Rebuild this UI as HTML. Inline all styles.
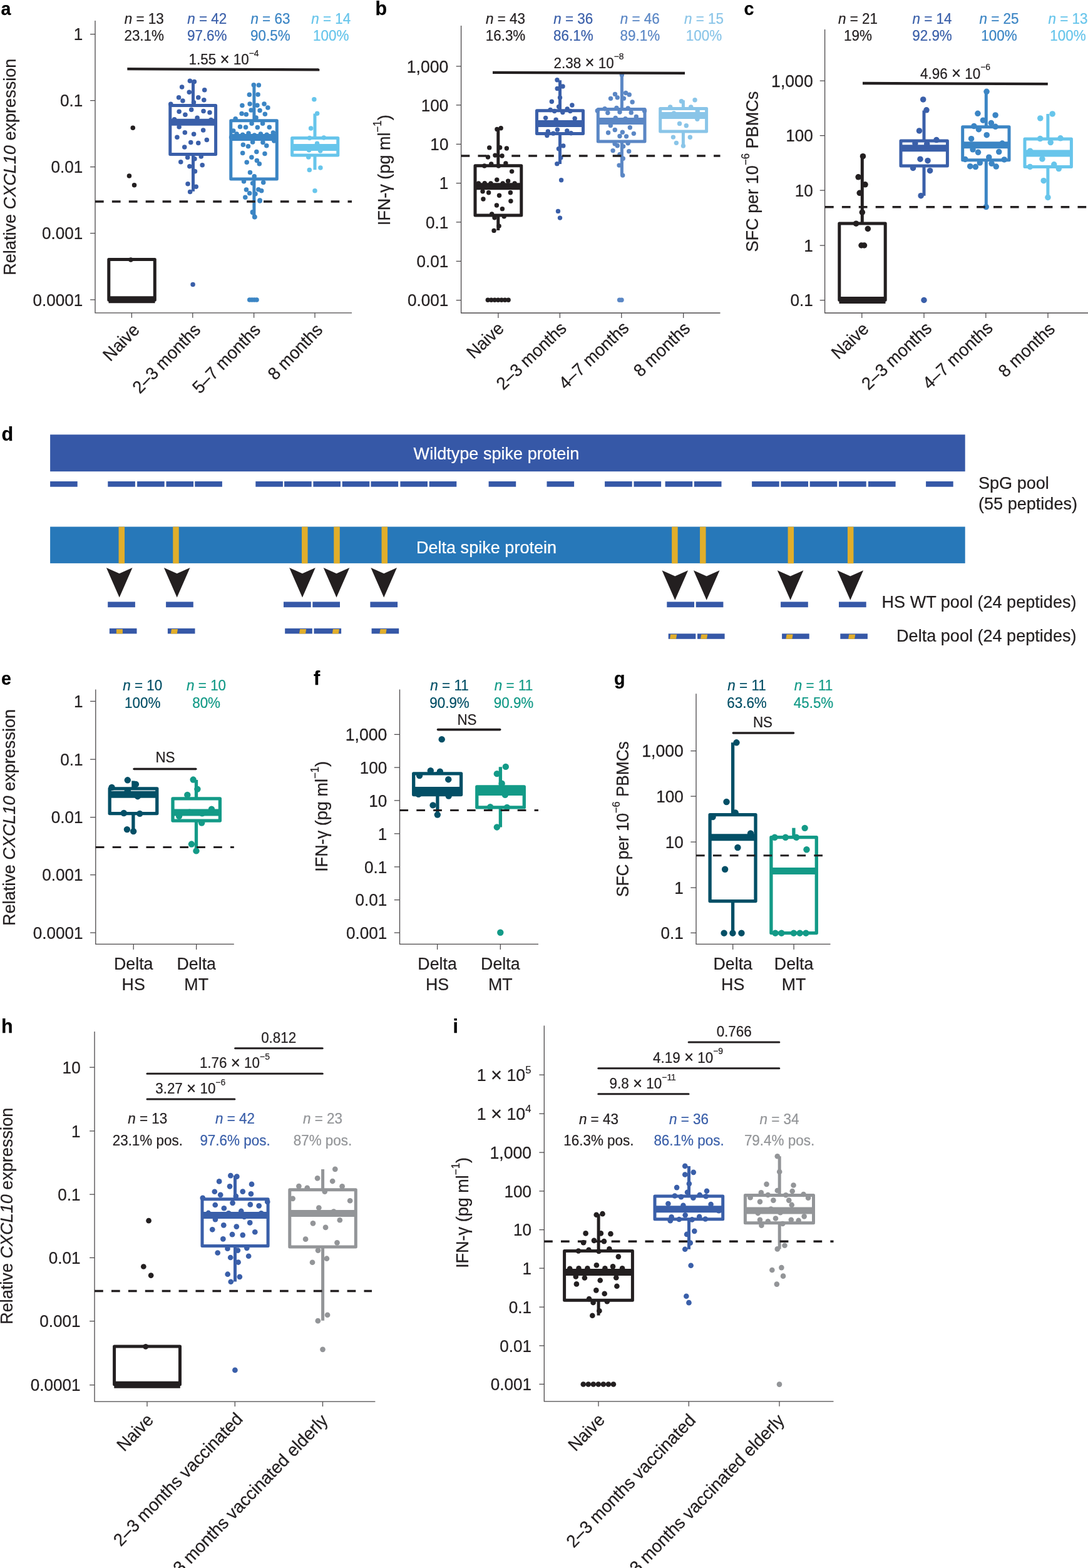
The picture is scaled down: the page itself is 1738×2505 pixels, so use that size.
<!DOCTYPE html>
<html lang="en">
<head>
<meta charset="utf-8">
<title>Figure: T cell responses after vaccination</title>
<style>
html,body{margin:0;padding:0;background:#fff;}
body{width:1738px;height:2505px;overflow:hidden;}
svg{display:block;font-family:'Liberation Sans', Arial, Helvetica, sans-serif;fill:#231f20;}
text{stroke-width:0.25px;stroke-linejoin:round;}
</style>
</head>
<body>
<svg width="1738" height="2505" viewBox="0 0 1738 2505">
<rect width="1738" height="2505" fill="#fff"/>
<text transform="translate(1.5 24.2)" font-size="28.6" fill="#000" stroke="#000" font-weight="bold">a</text>
<path d="M152 33.1V499.9H562" fill="none" stroke="#4b484a" stroke-width="1.3" stroke-linejoin="round"/>
<path d="M152 54.5h-7.9M152 160.5h-7.9M152 266.5h-7.9M152 372.7h-7.9M152 478.8h-7.9M210.4 499.9v7.9M307.8 499.9v7.9M405.6 499.9v7.9M503 499.9v7.9" fill="none" stroke="#4b484a" stroke-width="1.25"/>
<text transform="translate(132.4 64.2) scale(0.957 1)" font-size="27.3" stroke="#231f20" text-anchor="end">1</text>
<text transform="translate(132.4 170.2) scale(0.957 1)" font-size="27.3" stroke="#231f20" text-anchor="end">0.1</text>
<text transform="translate(132.4 276.2) scale(0.957 1)" font-size="27.3" stroke="#231f20" text-anchor="end">0.01</text>
<text transform="translate(132.4 382.4) scale(0.957 1)" font-size="27.3" stroke="#231f20" text-anchor="end">0.001</text>
<text transform="translate(132.4 488.5) scale(0.957 1)" font-size="27.3" stroke="#231f20" text-anchor="end">0.0001</text>
<text transform="translate(24.5 266.7) rotate(-90) scale(0.957 1)" font-size="28.3" stroke="#231f20" text-anchor="middle">Relative <tspan font-style="italic">CXCL10</tspan> expression</text>
<text transform="translate(224.4 528.6) rotate(-46) scale(0.957 1)" font-size="28.3" stroke="#231f20" text-anchor="end">Naive</text>
<text transform="translate(321.8 528.6) rotate(-46) scale(0.957 1)" font-size="28.3" stroke="#231f20" text-anchor="end">2–3 months</text>
<text transform="translate(417.6 528.6) rotate(-46) scale(0.957 1)" font-size="28.3" stroke="#231f20" text-anchor="end">5–7 months</text>
<text transform="translate(517 528.6) rotate(-46) scale(0.957 1)" font-size="28.3" stroke="#231f20" text-anchor="end">8 months</text>
<rect x="173.8" y="414.6" width="73.5" height="64.6" fill="none" stroke="#231f20" stroke-width="5" stroke-linejoin="round"/>
<path d="M173.5 478.8H247.6" stroke="#231f20" stroke-width="11" fill="none"/>
<path d="M308.5 129.1V168.6M308.5 246.4V305.8" stroke="#3a5fa9" stroke-width="5" fill="none"/>
<rect x="271.8" y="168.6" width="72.8" height="77.8" fill="none" stroke="#3a5fa9" stroke-width="5" stroke-linejoin="round"/>
<path d="M271.5 195.2H344.9" stroke="#3a5fa9" stroke-width="11" fill="none"/>
<path d="M405.9 135.7V192.7M405.9 286.1V346.5" stroke="#3b85c4" stroke-width="5" fill="none"/>
<rect x="368.8" y="192.7" width="73.5" height="93.4" fill="none" stroke="#3b85c4" stroke-width="5" stroke-linejoin="round"/>
<path d="M368.5 219.5H442.6" stroke="#3b85c4" stroke-width="11" fill="none"/>
<path d="M503 181.4V220.4M503 248.1V271.2" stroke="#67c5eb" stroke-width="5" fill="none"/>
<rect x="466.6" y="220.4" width="73.2" height="27.7" fill="none" stroke="#67c5eb" stroke-width="5" stroke-linejoin="round"/>
<path d="M466.3 235.5H540.1" stroke="#67c5eb" stroke-width="11" fill="none"/>
<g fill="#231f20"><circle cx="212.26" cy="204.14" r="3.75"/><circle cx="206.43" cy="281.02" r="3.75"/><circle cx="214.51" cy="295.86" r="3.75"/><circle cx="208.9" cy="414.9" r="3.75"/></g>
<g fill="#3a5fa9"><circle cx="303.42" cy="129.14" r="3.75"/><circle cx="310.38" cy="130.45" r="3.75"/><circle cx="290.64" cy="138.91" r="3.75"/><circle cx="326.73" cy="143.8" r="3.75"/><circle cx="302.29" cy="147.18" r="3.75"/><circle cx="285.56" cy="155.83" r="3.75"/><circle cx="291.95" cy="160.9" r="3.75"/><circle cx="316.77" cy="155.64" r="3.75"/><circle cx="325.79" cy="159.77" r="3.75"/><circle cx="309.44" cy="163.53" r="3.75"/><circle cx="272.78" cy="166.17" r="3.75"/><circle cx="305.68" cy="175.19" r="3.75"/><circle cx="286.13" cy="178.2" r="3.75"/><circle cx="295.9" cy="183.27" r="3.75"/><circle cx="325.04" cy="177.44" r="3.75"/><circle cx="335" cy="179.7" r="3.75"/><circle cx="315.08" cy="188.35" r="3.75"/><circle cx="278.61" cy="190.79" r="3.75"/><circle cx="337.07" cy="191.54" r="3.75"/><circle cx="286.13" cy="202.82" r="3.75"/><circle cx="324.66" cy="207.89" r="3.75"/><circle cx="295.34" cy="211.84" r="3.75"/><circle cx="309.62" cy="214.29" r="3.75"/><circle cx="282.93" cy="219.36" r="3.75"/><circle cx="330.3" cy="223.5" r="3.75"/><circle cx="304.74" cy="227.44" r="3.75"/><circle cx="316.77" cy="228.57" r="3.75"/><circle cx="294.77" cy="234.96" r="3.75"/><circle cx="299.66" cy="251.5" r="3.75"/><circle cx="310.94" cy="253.76" r="3.75"/><circle cx="321.28" cy="250" r="3.75"/><circle cx="288.76" cy="258.65" r="3.75"/><circle cx="323.16" cy="263.72" r="3.75"/><circle cx="302.86" cy="265.79" r="3.75"/><circle cx="311.5" cy="273.87" r="3.75"/><circle cx="300.04" cy="293.8" r="3.75"/><circle cx="313.2" cy="298.31" r="3.75"/><circle cx="303.61" cy="306.39" r="3.75"/><circle cx="308.1" cy="454.6" r="3.75"/></g>
<g fill="#3b85c4"><circle cx="405.3" cy="135.71" r="3.75"/><circle cx="413.38" cy="136.09" r="3.75"/><circle cx="398.35" cy="151.13" r="3.75"/><circle cx="412.07" cy="150.94" r="3.75"/><circle cx="399.1" cy="165.98" r="3.75"/><circle cx="386.88" cy="168.61" r="3.75"/><circle cx="410.94" cy="168.23" r="3.75"/><circle cx="422.03" cy="165.98" r="3.75"/><circle cx="427.86" cy="171.99" r="3.75"/><circle cx="401.17" cy="175.94" r="3.75"/><circle cx="415.08" cy="176.5" r="3.75"/><circle cx="386.13" cy="181.58" r="3.75"/><circle cx="393.27" cy="182.71" r="3.75"/><circle cx="423.35" cy="182.14" r="3.75"/><circle cx="376.17" cy="189.85" r="3.75"/><circle cx="409.06" cy="187.97" r="3.75"/><circle cx="402.11" cy="197.37" r="3.75"/><circle cx="419.59" cy="197.37" r="3.75"/><circle cx="383.5" cy="202.44" r="3.75"/><circle cx="392.52" cy="203.2" r="3.75"/><circle cx="411.32" cy="203.57" r="3.75"/><circle cx="430.3" cy="203.2" r="3.75"/><circle cx="372.78" cy="209.02" r="3.75"/><circle cx="436.32" cy="212.03" r="3.75"/><circle cx="378.05" cy="214.1" r="3.75"/><circle cx="387.63" cy="215.23" r="3.75"/><circle cx="397.03" cy="212.97" r="3.75"/><circle cx="406.43" cy="215.98" r="3.75"/><circle cx="416.39" cy="214.1" r="3.75"/><circle cx="426.17" cy="215.23" r="3.75"/><circle cx="369.59" cy="219.17" r="3.75"/><circle cx="437.82" cy="225" r="3.75"/><circle cx="403.61" cy="226.88" r="3.75"/><circle cx="419.96" cy="227.44" r="3.75"/><circle cx="388.38" cy="231.2" r="3.75"/><circle cx="396.47" cy="233.83" r="3.75"/><circle cx="425.79" cy="232.71" r="3.75"/><circle cx="387.63" cy="244.55" r="3.75"/><circle cx="409.81" cy="242.48" r="3.75"/><circle cx="422.97" cy="245.49" r="3.75"/><circle cx="401.92" cy="251.32" r="3.75"/><circle cx="410.38" cy="256.58" r="3.75"/><circle cx="394.21" cy="259.21" r="3.75"/><circle cx="414.32" cy="261.84" r="3.75"/><circle cx="399.47" cy="275.38" r="3.75"/><circle cx="406.24" cy="281.77" r="3.75"/><circle cx="389.51" cy="289.85" r="3.75"/><circle cx="403.61" cy="292.67" r="3.75"/><circle cx="420.71" cy="291.54" r="3.75"/><circle cx="393.46" cy="303.01" r="3.75"/><circle cx="412.82" cy="302.63" r="3.75"/><circle cx="417.71" cy="304.7" r="3.75"/><circle cx="398.72" cy="308.83" r="3.75"/><circle cx="407.93" cy="309.77" r="3.75"/><circle cx="391.77" cy="315.23" r="3.75"/><circle cx="415.08" cy="320.11" r="3.75"/><circle cx="403.61" cy="339.47" r="3.75"/><circle cx="406.8" cy="346.43" r="3.75"/><circle cx="415.08" cy="320.94" r="3.75"/><circle cx="403.42" cy="338.8" r="3.75"/><circle cx="406.8" cy="346.69" r="3.75"/><circle cx="398.72" cy="479.02" r="3.75"/><circle cx="402.48" cy="479.02" r="3.75"/><circle cx="406.24" cy="479.02" r="3.75"/><circle cx="410" cy="479.02" r="3.75"/></g>
<g fill="#67c5eb"><circle cx="501.84" cy="158.65" r="3.75"/><circle cx="506.69" cy="181.2" r="3.75"/><circle cx="496.65" cy="204.89" r="3.75"/><circle cx="494.51" cy="220.45" r="3.75"/><circle cx="517.29" cy="220.11" r="3.75"/><circle cx="506.58" cy="229.14" r="3.75"/><circle cx="493.61" cy="239.85" r="3.75"/><circle cx="511.65" cy="240.98" r="3.75"/><circle cx="492.82" cy="250.9" r="3.75"/><circle cx="511.88" cy="268.05" r="3.75"/><circle cx="494.29" cy="271.43" r="3.75"/><circle cx="503" cy="304.7" r="3.75"/></g>
<line x1="152" y1="322" x2="562" y2="322" stroke="#231f20" stroke-width="3.5" stroke-dasharray="13.7 13.2"/>
<line x1="203.3" y1="110.1" x2="510.3" y2="111.3" stroke="#231f20" stroke-width="4.3"/>
<text transform="translate(357.5 102.8) scale(0.951 1)" font-size="23.6" stroke="#231f20" text-anchor="middle">1.55 <tspan font-size="27.14" dy="0.71">×</tspan><tspan dy="-0.71"> 10</tspan><tspan dy="-13.22" font-size="14.63">−4</tspan></text>
<text transform="translate(230.2 37.6) scale(0.951 1)" font-size="23.6" stroke="#231f20" text-anchor="middle"><tspan font-style="italic">n</tspan> = 13</text>
<text transform="translate(230.2 65.3) scale(0.951 1)" font-size="23.6" stroke="#231f20" text-anchor="middle">23.1%</text>
<text transform="translate(330.7 37.6) scale(0.951 1)" font-size="23.6" fill="#3a5fa9" stroke="#3a5fa9" text-anchor="middle"><tspan font-style="italic">n</tspan> = 42</text>
<text transform="translate(330.7 65.3) scale(0.951 1)" font-size="23.6" fill="#3a5fa9" stroke="#3a5fa9" text-anchor="middle">97.6%</text>
<text transform="translate(431.9 37.6) scale(0.951 1)" font-size="23.6" fill="#3b85c4" stroke="#3b85c4" text-anchor="middle"><tspan font-style="italic">n</tspan> = 63</text>
<text transform="translate(431.9 65.3) scale(0.951 1)" font-size="23.6" fill="#3b85c4" stroke="#3b85c4" text-anchor="middle">90.5%</text>
<text transform="translate(528.7 37.6) scale(0.951 1)" font-size="23.6" fill="#67c5eb" stroke="#67c5eb" text-anchor="middle"><tspan font-style="italic">n</tspan> = 14</text>
<text transform="translate(528.7 65.3) scale(0.951 1)" font-size="23.6" fill="#67c5eb" stroke="#67c5eb" text-anchor="middle">100%</text>
<text transform="translate(599.5 24.2)" font-size="30.5" fill="#000" stroke="#000" font-weight="bold">b</text>
<path d="M736.6 41V500H1150.5" fill="none" stroke="#4b484a" stroke-width="1.3" stroke-linejoin="round"/>
<path d="M736.6 105.8h-7.9M736.6 167.9h-7.9M736.6 230.4h-7.9M736.6 292.5h-7.9M736.6 354.9h-7.9M736.6 417.4h-7.9M736.6 479.5h-7.9M795.9 500v7.9M894.4 500v7.9M992.8 500v7.9M1091.7 500v7.9" fill="none" stroke="#4b484a" stroke-width="1.25"/>
<text transform="translate(716.4 115.5) scale(0.975 1)" font-size="27.3" stroke="#231f20" text-anchor="end">1,000</text>
<text transform="translate(716.4 177.6) scale(0.957 1)" font-size="27.3" stroke="#231f20" text-anchor="end">100</text>
<text transform="translate(716.4 240.1) scale(0.957 1)" font-size="27.3" stroke="#231f20" text-anchor="end">10</text>
<text transform="translate(716.4 302.2) scale(0.957 1)" font-size="27.3" stroke="#231f20" text-anchor="end">1</text>
<text transform="translate(716.4 364.6) scale(0.957 1)" font-size="27.3" stroke="#231f20" text-anchor="end">0.1</text>
<text transform="translate(716.4 427.1) scale(0.957 1)" font-size="27.3" stroke="#231f20" text-anchor="end">0.01</text>
<text transform="translate(716.4 489.2) scale(0.957 1)" font-size="27.3" stroke="#231f20" text-anchor="end">0.001</text>
<text transform="translate(622.7 271.8) rotate(-90) scale(0.957 1)" font-size="28.3" stroke="#231f20" text-anchor="middle">IFN-γ (pg ml<tspan dy="-14.15" font-size="17.55">−1</tspan><tspan dy="14.15">)</tspan></text>
<text transform="translate(806.7 526.8) rotate(-43.5) scale(0.957 1)" font-size="28.3" stroke="#231f20" text-anchor="end">Naive</text>
<text transform="translate(906.5 526.8) rotate(-43.5) scale(0.957 1)" font-size="28.3" stroke="#231f20" text-anchor="end">2–3 months</text>
<text transform="translate(1006.3 526) rotate(-43.5) scale(0.957 1)" font-size="28.3" stroke="#231f20" text-anchor="end">4–7 months</text>
<text transform="translate(1104.1 526.8) rotate(-43.5) scale(0.957 1)" font-size="28.3" stroke="#231f20" text-anchor="end">8 months</text>
<path d="M795.8 204.3V264.7M795.8 343.9V367.9" stroke="#231f20" stroke-width="5" fill="none"/>
<rect x="759" y="264.7" width="73.8" height="79.2" fill="none" stroke="#231f20" stroke-width="5" stroke-linejoin="round"/>
<path d="M758.7 297.7H833.1" stroke="#231f20" stroke-width="11" fill="none"/>
<path d="M894.5 128.2V176.7M894.5 213.5V262" stroke="#3a5fa9" stroke-width="5" fill="none"/>
<rect x="857.5" y="176.7" width="74" height="36.8" fill="none" stroke="#3a5fa9" stroke-width="5" stroke-linejoin="round"/>
<path d="M857.2 197.6H931.8" stroke="#3a5fa9" stroke-width="11" fill="none"/>
<path d="M993.4 118.8V174.5M993.4 225.9V280" stroke="#5b87c5" stroke-width="5" fill="none"/>
<rect x="955.3" y="174.5" width="74.7" height="51.4" fill="none" stroke="#5b87c5" stroke-width="5" stroke-linejoin="round"/>
<path d="M955 193.4H1030.3" stroke="#5b87c5" stroke-width="11" fill="none"/>
<path d="M1091.4 160.3V173.5M1091.4 210.1V233.1" stroke="#8ac5e8" stroke-width="5" fill="none"/>
<rect x="1054.7" y="173.5" width="73.9" height="36.6" fill="none" stroke="#8ac5e8" stroke-width="5" stroke-linejoin="round"/>
<path d="M1054.4 184.6H1128.9" stroke="#8ac5e8" stroke-width="11" fill="none"/>
<g fill="#231f20"><circle cx="793.95" cy="206.39" r="3.7"/><circle cx="800.15" cy="204.7" r="3.7"/><circle cx="781.73" cy="235.9" r="3.7"/><circle cx="798.65" cy="235.71" r="3.7"/><circle cx="809.36" cy="237.03" r="3.7"/><circle cx="779.47" cy="250.94" r="3.7"/><circle cx="790.94" cy="248.12" r="3.7"/><circle cx="802.03" cy="249.06" r="3.7"/><circle cx="784.74" cy="262.03" r="3.7"/><circle cx="807.86" cy="260.9" r="3.7"/><circle cx="773.83" cy="265.04" r="3.7"/><circle cx="796.39" cy="265.04" r="3.7"/><circle cx="817.63" cy="273.87" r="3.7"/><circle cx="793.76" cy="287.22" r="3.7"/><circle cx="764.44" cy="293.05" r="3.7"/><circle cx="774.21" cy="292.67" r="3.7"/><circle cx="783.98" cy="293.05" r="3.7"/><circle cx="803.16" cy="293.05" r="3.7"/><circle cx="811.62" cy="289.29" r="3.7"/><circle cx="822.14" cy="293.05" r="3.7"/><circle cx="771.02" cy="305.83" r="3.7"/><circle cx="780.6" cy="307.71" r="3.7"/><circle cx="815.38" cy="307.71" r="3.7"/><circle cx="797.52" cy="312.22" r="3.7"/><circle cx="771.95" cy="318.05" r="3.7"/><circle cx="815.94" cy="321.24" r="3.7"/><circle cx="793.38" cy="328.01" r="3.7"/><circle cx="802.41" cy="333.65" r="3.7"/><circle cx="785.68" cy="341.92" r="3.7"/><circle cx="790" cy="347.74" r="3.7"/><circle cx="805.23" cy="345.86" r="3.7"/><circle cx="797.14" cy="361.09" r="3.7"/><circle cx="789.06" cy="368.42" r="3.7"/><circle cx="779.3" cy="479.3" r="3.7"/><circle cx="784.77" cy="479.3" r="3.7"/><circle cx="790.24" cy="479.3" r="3.7"/><circle cx="795.71" cy="479.3" r="3.7"/><circle cx="801.18" cy="479.3" r="3.7"/><circle cx="806.65" cy="479.3" r="3.7"/><circle cx="812.12" cy="479.3" r="3.7"/></g>
<g fill="#3a5fa9"><circle cx="890" cy="127.82" r="3.7"/><circle cx="899.02" cy="137.97" r="3.7"/><circle cx="890.19" cy="141.54" r="3.7"/><circle cx="894.51" cy="156.02" r="3.7"/><circle cx="881.35" cy="162.22" r="3.7"/><circle cx="913.87" cy="168.05" r="3.7"/><circle cx="892.63" cy="170.49" r="3.7"/><circle cx="879.1" cy="175.56" r="3.7"/><circle cx="906.17" cy="174.06" r="3.7"/><circle cx="885.68" cy="177.44" r="3.7"/><circle cx="898.83" cy="179.51" r="3.7"/><circle cx="910.86" cy="177.44" r="3.7"/><circle cx="871.58" cy="188.35" r="3.7"/><circle cx="888.12" cy="191.17" r="3.7"/><circle cx="918.2" cy="189.29" r="3.7"/><circle cx="890.38" cy="207.14" r="3.7"/><circle cx="875.34" cy="209.96" r="3.7"/><circle cx="905.79" cy="209.02" r="3.7"/><circle cx="883.8" cy="213.16" r="3.7"/><circle cx="873.83" cy="216.54" r="3.7"/><circle cx="912.18" cy="212.78" r="3.7"/><circle cx="899.77" cy="232.89" r="3.7"/><circle cx="892.44" cy="237.78" r="3.7"/><circle cx="895.83" cy="251.88" r="3.7"/><circle cx="889.81" cy="261.65" r="3.7"/><circle cx="896.58" cy="287.78" r="3.7"/><circle cx="891.5" cy="337.41" r="3.7"/><circle cx="894.51" cy="348.12" r="3.7"/></g>
<g fill="#5b87c5"><circle cx="982.48" cy="150.38" r="3.7"/><circle cx="999.59" cy="148.5" r="3.7"/><circle cx="1005.23" cy="151.13" r="3.7"/><circle cx="975.53" cy="157.33" r="3.7"/><circle cx="986.24" cy="155.83" r="3.7"/><circle cx="996.39" cy="157.14" r="3.7"/><circle cx="1010.11" cy="162.97" r="3.7"/><circle cx="966.13" cy="173.68" r="3.7"/><circle cx="984.92" cy="172.37" r="3.7"/><circle cx="1003.16" cy="172.93" r="3.7"/><circle cx="954.29" cy="177.07" r="3.7"/><circle cx="1029.47" cy="177.07" r="3.7"/><circle cx="970.83" cy="180.26" r="3.7"/><circle cx="990" cy="178.95" r="3.7"/><circle cx="1008.23" cy="179.89" r="3.7"/><circle cx="983.23" cy="188.35" r="3.7"/><circle cx="999.02" cy="189.66" r="3.7"/><circle cx="1016.32" cy="186.47" r="3.7"/><circle cx="975.34" cy="200.56" r="3.7"/><circle cx="982.29" cy="207.52" r="3.7"/><circle cx="1006.35" cy="203.76" r="3.7"/><circle cx="971.58" cy="212.03" r="3.7"/><circle cx="994.32" cy="211.28" r="3.7"/><circle cx="1012.37" cy="213.35" r="3.7"/><circle cx="990" cy="217.48" r="3.7"/><circle cx="1000.53" cy="217.86" r="3.7"/><circle cx="982.11" cy="229.7" r="3.7"/><circle cx="986.24" cy="232.71" r="3.7"/><circle cx="1003.16" cy="228.76" r="3.7"/><circle cx="995.64" cy="233.83" r="3.7"/><circle cx="979.1" cy="240.6" r="3.7"/><circle cx="1004.66" cy="241.73" r="3.7"/><circle cx="990" cy="246.62" r="3.7"/><circle cx="995.26" cy="253.2" r="3.7"/><circle cx="989.06" cy="264.1" r="3.7"/><circle cx="994.7" cy="280.08" r="3.7"/><circle cx="993.38" cy="119.74" r="3.7"/><circle cx="989.6" cy="479.2" r="3.7"/><circle cx="993" cy="479.2" r="3.7"/></g>
<g fill="#8ac5e8"><circle cx="1088.5" cy="161.8" r="3.7"/><circle cx="1110.04" cy="159.77" r="3.7"/><circle cx="1070.68" cy="170.83" r="3.7"/><circle cx="1103.72" cy="170.83" r="3.7"/><circle cx="1076.43" cy="180.98" r="3.7"/><circle cx="1114.21" cy="177.82" r="3.7"/><circle cx="1113.87" cy="190.23" r="3.7"/><circle cx="1085.56" cy="197.44" r="3.7"/><circle cx="1096.28" cy="200.71" r="3.7"/><circle cx="1075.41" cy="219.1" r="3.7"/><circle cx="1102.37" cy="219.32" r="3.7"/><circle cx="1080.38" cy="228.35" r="3.7"/><circle cx="1091.43" cy="233.08" r="3.7"/></g>
<line x1="736.6" y1="249" x2="1150.5" y2="249" stroke="#231f20" stroke-width="3.5" stroke-dasharray="13.7 13.2"/>
<line x1="787" y1="115.9" x2="1094" y2="116.9" stroke="#231f20" stroke-width="4.3"/>
<text transform="translate(940.5 108.5) scale(0.951 1)" font-size="23.6" stroke="#231f20" text-anchor="middle">2.38 <tspan font-size="27.14" dy="0.71">×</tspan><tspan dy="-0.71"> 10</tspan><tspan dy="-13.22" font-size="14.63">−8</tspan></text>
<text transform="translate(807.5 37.6) scale(0.951 1)" font-size="23.6" stroke="#231f20" text-anchor="middle"><tspan font-style="italic">n</tspan> = 43</text>
<text transform="translate(807.5 65.3) scale(0.951 1)" font-size="23.6" stroke="#231f20" text-anchor="middle">16.3%</text>
<text transform="translate(915.8 37.6) scale(0.951 1)" font-size="23.6" fill="#3a5fa9" stroke="#3a5fa9" text-anchor="middle"><tspan font-style="italic">n</tspan> = 36</text>
<text transform="translate(915.8 65.3) scale(0.951 1)" font-size="23.6" fill="#3a5fa9" stroke="#3a5fa9" text-anchor="middle">86.1%</text>
<text transform="translate(1022.3 37.6) scale(0.951 1)" font-size="23.6" fill="#5b87c5" stroke="#5b87c5" text-anchor="middle"><tspan font-style="italic">n</tspan> = 46</text>
<text transform="translate(1022.3 65.3) scale(0.951 1)" font-size="23.6" fill="#5b87c5" stroke="#5b87c5" text-anchor="middle">89.1%</text>
<text transform="translate(1124.5 37.6) scale(0.951 1)" font-size="23.6" fill="#8ac5e8" stroke="#8ac5e8" text-anchor="middle"><tspan font-style="italic">n</tspan> = 15</text>
<text transform="translate(1124.5 65.3) scale(0.951 1)" font-size="23.6" fill="#8ac5e8" stroke="#8ac5e8" text-anchor="middle">100%</text>
<text transform="translate(1188.5 24.2)" font-size="28.6" fill="#000" stroke="#000" font-weight="bold">c</text>
<path d="M1317.6 47V500H1738" fill="none" stroke="#4b484a" stroke-width="1.3" stroke-linejoin="round"/>
<path d="M1317.6 129h-7.9M1317.6 216.6h-7.9M1317.6 304.2h-7.9M1317.6 392h-7.9M1317.6 479.5h-7.9M1376.8 500v7.9M1476 500v7.9M1574.8 500v7.9M1674 500v7.9" fill="none" stroke="#4b484a" stroke-width="1.25"/>
<text transform="translate(1298.7 138.7) scale(0.975 1)" font-size="27.3" stroke="#231f20" text-anchor="end">1,000</text>
<text transform="translate(1298.7 226.3) scale(0.957 1)" font-size="27.3" stroke="#231f20" text-anchor="end">100</text>
<text transform="translate(1298.7 313.9) scale(0.957 1)" font-size="27.3" stroke="#231f20" text-anchor="end">10</text>
<text transform="translate(1298.7 401.7) scale(0.957 1)" font-size="27.3" stroke="#231f20" text-anchor="end">1</text>
<text transform="translate(1298.7 489.2) scale(0.957 1)" font-size="27.3" stroke="#231f20" text-anchor="end">0.1</text>
<text transform="translate(1211.4 274.1) rotate(-90) scale(0.957 1)" font-size="28.3" stroke="#231f20" text-anchor="middle">SFC per 10<tspan dy="-14.15" font-size="17.55">−6</tspan><tspan dy="14.15"> PBMCs</tspan></text>
<text transform="translate(1389.5 527.6) rotate(-43.5) scale(0.957 1)" font-size="28.3" stroke="#231f20" text-anchor="end">Naive</text>
<text transform="translate(1490 526.8) rotate(-43.5) scale(0.957 1)" font-size="28.3" stroke="#231f20" text-anchor="end">2–3 months</text>
<text transform="translate(1587.5 526) rotate(-43.5) scale(0.957 1)" font-size="28.3" stroke="#231f20" text-anchor="end">4–7 months</text>
<text transform="translate(1686.7 527.6) rotate(-43.5) scale(0.957 1)" font-size="28.3" stroke="#231f20" text-anchor="end">8 months</text>
<path d="M1377.3 249.7V357" stroke="#231f20" stroke-width="5" fill="none"/>
<rect x="1340.8" y="357" width="73.4" height="122.2" fill="none" stroke="#231f20" stroke-width="5" stroke-linejoin="round"/>
<path d="M1340.5 479.5H1414.5" stroke="#231f20" stroke-width="11" fill="none"/>
<path d="M1476 176.4V224.9M1476 265.1V312.7" stroke="#3a5fa9" stroke-width="5" fill="none"/>
<rect x="1439" y="224.9" width="74.4" height="40.2" fill="none" stroke="#3a5fa9" stroke-width="5" stroke-linejoin="round"/>
<path d="M1438.7 236.7H1513.7" stroke="#3a5fa9" stroke-width="11" fill="none"/>
<path d="M1575.3 146.3V202.8M1575.3 255.7V330.5" stroke="#3b85c4" stroke-width="5" fill="none"/>
<rect x="1537.7" y="202.8" width="74.3" height="52.9" fill="none" stroke="#3b85c4" stroke-width="5" stroke-linejoin="round"/>
<path d="M1537.4 231.7H1612.3" stroke="#3b85c4" stroke-width="11" fill="none"/>
<path d="M1673.9 182.1V221.9M1673.9 266.5V315.2" stroke="#67c5eb" stroke-width="5" fill="none"/>
<rect x="1637" y="221.9" width="74.4" height="44.6" fill="none" stroke="#67c5eb" stroke-width="5" stroke-linejoin="round"/>
<path d="M1636.7 245.1H1711.7" stroke="#67c5eb" stroke-width="11" fill="none"/>
<g fill="#231f20"><circle cx="1378.46" cy="249.7" r="4.75"/><circle cx="1371.13" cy="282.78" r="4.75"/><circle cx="1382.03" cy="294.81" r="4.75"/><circle cx="1373.2" cy="308.35" r="4.75"/><circle cx="1377.33" cy="339.17" r="4.75"/><circle cx="1367.56" cy="357.22" r="4.75"/><circle cx="1386.35" cy="365.49" r="4.75"/><circle cx="1376.02" cy="391.99" r="4.75"/><circle cx="1380.53" cy="391.99" r="4.75"/></g>
<g fill="#3a5fa9"><circle cx="1474.7" cy="158.91" r="4.75"/><circle cx="1479.96" cy="175.83" r="4.75"/><circle cx="1468.5" cy="208.91" r="4.75"/><circle cx="1495.94" cy="223.57" r="4.75"/><circle cx="1461.92" cy="229.02" r="4.75"/><circle cx="1480.71" cy="229.96" r="4.75"/><circle cx="1470" cy="254.21" r="4.75"/><circle cx="1482.03" cy="256.65" r="4.75"/><circle cx="1458.53" cy="268.5" r="4.75"/><circle cx="1485.6" cy="272.63" r="4.75"/><circle cx="1471.13" cy="312.67" r="4.75"/><circle cx="1476" cy="479.5" r="4.75"/></g>
<g fill="#3b85c4"><circle cx="1576.02" cy="146.32" r="4.75"/><circle cx="1561.92" cy="181.28" r="4.75"/><circle cx="1590.11" cy="183.91" r="4.75"/><circle cx="1570.38" cy="192.18" r="4.75"/><circle cx="1583.35" cy="196.5" r="4.75"/><circle cx="1555.9" cy="201.58" r="4.75"/><circle cx="1590.11" cy="202.33" r="4.75"/><circle cx="1563.42" cy="206.65" r="4.75"/><circle cx="1576.2" cy="215.68" r="4.75"/><circle cx="1551.58" cy="221.69" r="4.75"/><circle cx="1601.02" cy="229.02" r="4.75"/><circle cx="1554.02" cy="238.8" r="4.75"/><circle cx="1562.48" cy="243.31" r="4.75"/><circle cx="1595.75" cy="242.56" r="4.75"/><circle cx="1579.77" cy="251.2" r="4.75"/><circle cx="1541.8" cy="254.4" r="4.75"/><circle cx="1604.21" cy="254.96" r="4.75"/><circle cx="1565.3" cy="260.04" r="4.75"/><circle cx="1584.1" cy="261.35" r="4.75"/><circle cx="1549.7" cy="265.68" r="4.75"/><circle cx="1558.35" cy="266.62" r="4.75"/><circle cx="1591.24" cy="266.05" r="4.75"/><circle cx="1575.26" cy="330.53" r="4.75"/></g>
<g fill="#67c5eb"><circle cx="1681.16" cy="181.92" r="4.75"/><circle cx="1661.76" cy="188.91" r="4.75"/><circle cx="1661.53" cy="221.62" r="4.75"/><circle cx="1694.02" cy="220.83" r="4.75"/><circle cx="1678.23" cy="227.59" r="4.75"/><circle cx="1645.52" cy="241.13" r="4.75"/><circle cx="1664.92" cy="253.98" r="4.75"/><circle cx="1683.75" cy="262.78" r="4.75"/><circle cx="1645.41" cy="266.39" r="4.75"/><circle cx="1691.31" cy="269.55" r="4.75"/><circle cx="1667.17" cy="288.72" r="4.75"/><circle cx="1673.94" cy="315.45" r="4.75"/></g>
<line x1="1318" y1="330.7" x2="1738" y2="330.7" stroke="#231f20" stroke-width="3.5" stroke-dasharray="13.7 13.2"/>
<line x1="1378" y1="133" x2="1673.8" y2="134.2" stroke="#231f20" stroke-width="4.3"/>
<text transform="translate(1526 125.5) scale(0.951 1)" font-size="23.6" stroke="#231f20" text-anchor="middle">4.96 <tspan font-size="27.14" dy="0.71">×</tspan><tspan dy="-0.71"> 10</tspan><tspan dy="-13.22" font-size="14.63">−6</tspan></text>
<text transform="translate(1370.5 37.6) scale(0.951 1)" font-size="23.6" stroke="#231f20" text-anchor="middle"><tspan font-style="italic">n</tspan> = 21</text>
<text transform="translate(1370.5 65.3) scale(0.951 1)" font-size="23.6" stroke="#231f20" text-anchor="middle">19%</text>
<text transform="translate(1489 37.6) scale(0.951 1)" font-size="23.6" fill="#3a5fa9" stroke="#3a5fa9" text-anchor="middle"><tspan font-style="italic">n</tspan> = 14</text>
<text transform="translate(1489 65.3) scale(0.951 1)" font-size="23.6" fill="#3a5fa9" stroke="#3a5fa9" text-anchor="middle">92.9%</text>
<text transform="translate(1596 37.6) scale(0.951 1)" font-size="23.6" fill="#3b85c4" stroke="#3b85c4" text-anchor="middle"><tspan font-style="italic">n</tspan> = 25</text>
<text transform="translate(1596 65.3) scale(0.951 1)" font-size="23.6" fill="#3b85c4" stroke="#3b85c4" text-anchor="middle">100%</text>
<text transform="translate(1706 37.6) scale(0.951 1)" font-size="23.6" fill="#67c5eb" stroke="#67c5eb" text-anchor="middle"><tspan font-style="italic">n</tspan> = 13</text>
<text transform="translate(1706 65.3) scale(0.951 1)" font-size="23.6" fill="#67c5eb" stroke="#67c5eb" text-anchor="middle">100%</text>
<text transform="translate(2.5 704.3)" font-size="30.5" fill="#000" stroke="#000" font-weight="bold">d</text>
<rect x="80.1" y="694.3" width="1461.6" height="58.9" fill="#3658a7"/>
<text transform="translate(793 733.6) scale(0.957 1)" font-size="28.3" fill="#fff" stroke="#fff" text-anchor="middle">Wildtype spike protein</text>
<g fill="#3658a7"><rect x="80.1" y="769" width="43.6" height="8.7"/><rect x="172.3" y="769" width="43.6" height="8.7"/><rect x="219.1" y="769" width="43.6" height="8.7"/><rect x="265.5" y="769" width="43.6" height="8.7"/><rect x="311.3" y="769" width="43.6" height="8.7"/><rect x="408.3" y="769" width="43.6" height="8.7"/><rect x="454.1" y="769" width="43.6" height="8.7"/><rect x="500.4" y="769" width="43.6" height="8.7"/><rect x="546.7" y="769" width="43.6" height="8.7"/><rect x="592.5" y="769" width="43.6" height="8.7"/><rect x="639.4" y="769" width="43.6" height="8.7"/><rect x="685.7" y="769" width="43.6" height="8.7"/><rect x="780.6" y="769" width="43.6" height="8.7"/><rect x="873.5" y="769" width="43.6" height="8.7"/><rect x="966.1" y="769" width="43.6" height="8.7"/><rect x="1012.5" y="769" width="43.6" height="8.7"/><rect x="1062.6" y="769" width="43.6" height="8.7"/><rect x="1108.9" y="769" width="43.6" height="8.7"/><rect x="1201.1" y="769" width="43.6" height="8.7"/><rect x="1247.4" y="769" width="43.6" height="8.7"/><rect x="1293.7" y="769" width="43.6" height="8.7"/><rect x="1340.1" y="769" width="43.6" height="8.7"/><rect x="1387" y="769" width="43.6" height="8.7"/><rect x="1479.1" y="769" width="43.6" height="8.7"/></g>
<text transform="translate(1563 781) scale(0.957 1)" font-size="28.3" stroke="#231f20">SpG pool</text>
<text transform="translate(1563 813.7) scale(0.957 1)" font-size="28.3" stroke="#231f20">(55 peptides)</text>
<rect x="80.1" y="841.5" width="1461.6" height="58.4" fill="#2778b9"/>
<text transform="translate(777 884) scale(0.957 1)" font-size="28.3" fill="#fff" stroke="#fff" text-anchor="middle">Delta spike protein</text>
<g fill="#e1ae2b"><rect x="189.55" y="841.5" width="9.5" height="58.8"/><rect x="276.25" y="841.5" width="9.5" height="58.8"/><rect x="482.05" y="841.5" width="9.5" height="58.8"/><rect x="533.25" y="841.5" width="9.5" height="58.8"/><rect x="609.55" y="841.5" width="9.5" height="58.8"/><rect x="1073.15" y="841.5" width="9.5" height="58.8"/><rect x="1118.05" y="841.5" width="9.5" height="58.8"/><rect x="1258.55" y="841.5" width="9.5" height="58.8"/><rect x="1353.95" y="841.5" width="9.5" height="58.8"/></g>
<g fill="#231f20"><path d="M190.7 954.5l-20.8 -47.6l20.8 9.3l20.8 -9.3z"/><path d="M282.7 954.5l-20.8 -47.6l20.8 9.3l20.8 -9.3z"/><path d="M483 954.5l-20.8 -47.6l20.8 9.3l20.8 -9.3z"/><path d="M537.5 954.5l-20.8 -47.6l20.8 9.3l20.8 -9.3z"/><path d="M613.2 954.5l-20.8 -47.6l20.8 9.3l20.8 -9.3z"/><path d="M1078.3 958.8l-20.8 -47.6l20.8 9.3l20.8 -9.3z"/><path d="M1128.7 958.8l-20.8 -47.6l20.8 9.3l20.8 -9.3z"/><path d="M1262.6 958.8l-20.8 -47.6l20.8 9.3l20.8 -9.3z"/><path d="M1358.3 958.8l-20.8 -47.6l20.8 9.3l20.8 -9.3z"/></g>
<g fill="#3658a7"><rect x="172.2" y="961.4" width="43.7" height="8.8"/><rect x="265.1" y="961.4" width="43.7" height="8.8"/><rect x="453" y="961.4" width="43.7" height="8.8"/><rect x="499.3" y="961.4" width="43.7" height="8.8"/><rect x="591.4" y="961.4" width="43.7" height="8.8"/><rect x="1065.3" y="961.4" width="43.7" height="8.8"/><rect x="1111.7" y="961.4" width="43.7" height="8.8"/><rect x="1247.1" y="961.4" width="43.7" height="8.8"/><rect x="1340" y="961.4" width="43.7" height="8.8"/></g>
<g fill="#3658a7"><rect x="174.9" y="1003.9" width="43.6" height="8.5"/><rect x="267.9" y="1003.9" width="43.6" height="8.5"/><rect x="455.2" y="1003.9" width="43.6" height="8.5"/><rect x="501.5" y="1003.9" width="43.6" height="8.5"/><rect x="593.6" y="1003.9" width="43.6" height="8.5"/><rect x="1067.7" y="1012.3" width="43.6" height="8.5"/><rect x="1114" y="1012.3" width="43.6" height="8.5"/><rect x="1249.1" y="1012.3" width="43.6" height="8.5"/><rect x="1342.3" y="1012.3" width="43.6" height="8.5"/></g>
<g fill="#e1ae2b"><path d="M185.9 1012.4h10l0 -7.3h-10z"/><path d="M272.8 1012.4h10l1.2 -7.3h-10z"/><path d="M478 1012.4h10l1.2 -7.3h-10z"/><path d="M530.8 1012.4h10l1.2 -7.3h-10z"/><path d="M606.4 1012.4h10l1.2 -7.3h-10z"/><path d="M1070 1020.8h10l1.2 -7.3h-10z"/><path d="M1119 1020.8h10l1.2 -7.3h-10z"/><path d="M1255.4 1020.8h10l1.2 -7.3h-10z"/><path d="M1355.1 1020.8h10l1.2 -7.3h-10z"/></g>
<text transform="translate(1719.5 970.7) scale(0.957 1)" font-size="28.3" stroke="#231f20" text-anchor="end">HS WT pool (24 peptides)</text>
<text transform="translate(1719.5 1025) scale(0.957 1)" font-size="28.3" stroke="#231f20" text-anchor="end">Delta pool (24 peptides)</text>
<text transform="translate(2 1093.6)" font-size="28.6" fill="#000" stroke="#000" font-weight="bold">e</text>
<path d="M152.8 1101.6V1508.4H373.8" fill="none" stroke="#4b484a" stroke-width="1.3" stroke-linejoin="round"/>
<path d="M152.8 1120.3h-8.7M152.8 1213h-8.7M152.8 1305.6h-8.7M152.8 1397.5h-8.7M152.8 1490.2h-8.7M213.2 1508.4v8.7M313.7 1508.4v8.7" fill="none" stroke="#4b484a" stroke-width="1.25"/>
<text transform="translate(132.6 1130) scale(0.957 1)" font-size="27.3" stroke="#231f20" text-anchor="end">1</text>
<text transform="translate(132.6 1222.7) scale(0.957 1)" font-size="27.3" stroke="#231f20" text-anchor="end">0.1</text>
<text transform="translate(132.6 1315.3) scale(0.957 1)" font-size="27.3" stroke="#231f20" text-anchor="end">0.01</text>
<text transform="translate(132.6 1407.2) scale(0.957 1)" font-size="27.3" stroke="#231f20" text-anchor="end">0.001</text>
<text transform="translate(132.6 1499.9) scale(0.957 1)" font-size="27.3" stroke="#231f20" text-anchor="end">0.0001</text>
<text transform="translate(23.8 1306) rotate(-90) scale(0.957 1)" font-size="28.3" stroke="#231f20" text-anchor="middle">Relative <tspan font-style="italic">CXCL10</tspan> expression</text>
<path d="M212.9 1247.4V1259.8M212.9 1299.6V1327.8" stroke="#034f66" stroke-width="5.3" fill="none"/>
<rect x="175.2" y="1259.8" width="75.6" height="39.8" fill="none" stroke="#034f66" stroke-width="5.3" stroke-linejoin="round"/>
<path d="M174.9 1269.3H251.1" stroke="#034f66" stroke-width="11" fill="none"/>
<path d="M313.5 1245.9V1275.9M313.5 1311.1V1359.4" stroke="#139a87" stroke-width="5.3" fill="none"/>
<rect x="276" y="1275.9" width="75.4" height="35.2" fill="none" stroke="#139a87" stroke-width="5.3" stroke-linejoin="round"/>
<path d="M275.7 1298.1H351.7" stroke="#139a87" stroke-width="11" fill="none"/>
<g fill="#034f66"><circle cx="203.83" cy="1246.32" r="5.2"/><circle cx="216.92" cy="1252.93" r="5.2"/><circle cx="178.57" cy="1257.89" r="5.2"/><circle cx="203.83" cy="1263.16" r="5.2"/><circle cx="219.92" cy="1272.18" r="5.2"/><circle cx="197.82" cy="1298.95" r="5.2"/><circle cx="223.23" cy="1299.85" r="5.2"/><circle cx="202.93" cy="1325.11" r="5.2"/><circle cx="213.16" cy="1328.12" r="5.2"/></g>
<g fill="#139a87"><circle cx="308.65" cy="1245.56" r="5.2"/><circle cx="315.41" cy="1260.6" r="5.2"/><circle cx="299.32" cy="1269.92" r="5.2"/><circle cx="337.97" cy="1292.78" r="5.2"/><circle cx="286.09" cy="1303.76" r="5.2"/><circle cx="302.63" cy="1297.74" r="5.2"/><circle cx="322.93" cy="1299.25" r="5.2"/><circle cx="322.18" cy="1314.59" r="5.2"/><circle cx="305.94" cy="1348.57" r="5.2"/><circle cx="313.46" cy="1359.4" r="5.2"/></g>
<line x1="152.8" y1="1353.5" x2="373.8" y2="1353.5" stroke="#231f20" stroke-width="3" stroke-dasharray="13.7 13.2"/>
<line x1="214.1" y1="1228.5" x2="312.8" y2="1228.5" stroke="#231f20" stroke-width="3.6" stroke-linecap="round"/>
<text transform="translate(264 1218.3) scale(0.951 1)" font-size="23.6" stroke="#231f20" text-anchor="middle">NS</text>
<text transform="translate(227.7 1103.2) scale(0.951 1)" font-size="23.6" fill="#034f66" stroke="#034f66" text-anchor="middle"><tspan font-style="italic">n</tspan> = 10</text>
<text transform="translate(227.7 1131.2) scale(0.951 1)" font-size="23.6" fill="#034f66" stroke="#034f66" text-anchor="middle">100%</text>
<text transform="translate(329.6 1103.2) scale(0.951 1)" font-size="23.6" fill="#139a87" stroke="#139a87" text-anchor="middle"><tspan font-style="italic">n</tspan> = 10</text>
<text transform="translate(329.6 1131.2) scale(0.951 1)" font-size="23.6" fill="#139a87" stroke="#139a87" text-anchor="middle">80%</text>
<text transform="translate(213.2 1549) scale(0.957 1)" font-size="28" stroke="#231f20" text-anchor="middle">Delta</text>
<text transform="translate(313.7 1549) scale(0.957 1)" font-size="28" stroke="#231f20" text-anchor="middle">Delta</text>
<text transform="translate(213.2 1581.5) scale(0.957 1)" font-size="28" stroke="#231f20" text-anchor="middle">HS</text>
<text transform="translate(313.7 1581.5) scale(0.957 1)" font-size="28" stroke="#231f20" text-anchor="middle">MT</text>
<text transform="translate(501 1093.6)" font-size="30.5" fill="#000" stroke="#000" font-weight="bold">f</text>
<path d="M638.5 1101.6V1508.4H860" fill="none" stroke="#4b484a" stroke-width="1.3" stroke-linejoin="round"/>
<path d="M638.5 1173.3h-8.7M638.5 1226.2h-8.7M638.5 1278.8h-8.7M638.5 1331.8h-8.7M638.5 1384.9h-8.7M638.5 1437.5h-8.7M638.5 1490.2h-8.7M698.6 1508.4v8.7M799.3 1508.4v8.7" fill="none" stroke="#4b484a" stroke-width="1.25"/>
<text transform="translate(618.3 1183) scale(0.975 1)" font-size="27.3" stroke="#231f20" text-anchor="end">1,000</text>
<text transform="translate(618.3 1235.9) scale(0.957 1)" font-size="27.3" stroke="#231f20" text-anchor="end">100</text>
<text transform="translate(618.3 1288.5) scale(0.957 1)" font-size="27.3" stroke="#231f20" text-anchor="end">10</text>
<text transform="translate(618.3 1341.5) scale(0.957 1)" font-size="27.3" stroke="#231f20" text-anchor="end">1</text>
<text transform="translate(618.3 1394.6) scale(0.957 1)" font-size="27.3" stroke="#231f20" text-anchor="end">0.1</text>
<text transform="translate(618.3 1447.2) scale(0.957 1)" font-size="27.3" stroke="#231f20" text-anchor="end">0.01</text>
<text transform="translate(618.3 1499.9) scale(0.957 1)" font-size="27.3" stroke="#231f20" text-anchor="end">0.001</text>
<text transform="translate(522.7 1304.4) rotate(-90) scale(0.957 1)" font-size="28.3" stroke="#231f20" text-anchor="middle">IFN-γ (pg ml<tspan dy="-14.15" font-size="17.55">−1</tspan><tspan dy="14.15">)</tspan></text>
<path d="M698.9 1233V1235.8M698.9 1269.6V1301.1" stroke="#034f66" stroke-width="5.3" fill="none"/>
<rect x="660.7" y="1235.8" width="75.9" height="33.8" fill="none" stroke="#034f66" stroke-width="5.3" stroke-linejoin="round"/>
<path d="M660.4 1262.9H736.9" stroke="#034f66" stroke-width="11.7" fill="none"/>
<path d="M799.4 1225.2V1256.9M799.4 1289.9V1321.4" stroke="#139a87" stroke-width="5.3" fill="none"/>
<rect x="761.8" y="1256.9" width="75.5" height="33" fill="none" stroke="#139a87" stroke-width="5.3" stroke-linejoin="round"/>
<path d="M761.5 1264.6H837.6" stroke="#139a87" stroke-width="12.6" fill="none"/>
<g fill="#034f66"><circle cx="705.71" cy="1181.13" r="5.2"/><circle cx="687.82" cy="1231.2" r="5.2"/><circle cx="702.86" cy="1232.71" r="5.2"/><circle cx="670.08" cy="1239.02" r="5.2"/><circle cx="716.24" cy="1245.19" r="5.2"/><circle cx="668.57" cy="1268.8" r="5.2"/><circle cx="716.69" cy="1271.5" r="5.2"/><circle cx="691.58" cy="1286.39" r="5.2"/><circle cx="698.8" cy="1301.58" r="5.2"/></g>
<g fill="#139a87"><circle cx="807.82" cy="1224.89" r="5.2"/><circle cx="793.83" cy="1236.17" r="5.2"/><circle cx="801.65" cy="1251.8" r="5.2"/><circle cx="806.92" cy="1269.85" r="5.2"/><circle cx="783.16" cy="1289.1" r="5.2"/><circle cx="809.92" cy="1289.85" r="5.2"/><circle cx="793.83" cy="1321.43" r="5.2"/><circle cx="799.3" cy="1489.8" r="5.2"/></g>
<line x1="638.4" y1="1294.4" x2="860" y2="1294.4" stroke="#231f20" stroke-width="3" stroke-dasharray="13.7 13.2"/>
<line x1="699.5" y1="1165.6" x2="798.7" y2="1165.6" stroke="#231f20" stroke-width="3.6" stroke-linecap="round"/>
<text transform="translate(746 1158) scale(0.951 1)" font-size="23.6" stroke="#231f20" text-anchor="middle">NS</text>
<text transform="translate(718 1103.2) scale(0.951 1)" font-size="23.6" fill="#034f66" stroke="#034f66" text-anchor="middle"><tspan font-style="italic">n</tspan> = 11</text>
<text transform="translate(718 1131.2) scale(0.951 1)" font-size="23.6" fill="#034f66" stroke="#034f66" text-anchor="middle">90.9%</text>
<text transform="translate(820.5 1103.2) scale(0.951 1)" font-size="23.6" fill="#139a87" stroke="#139a87" text-anchor="middle"><tspan font-style="italic">n</tspan> = 11</text>
<text transform="translate(820.5 1131.2) scale(0.951 1)" font-size="23.6" fill="#139a87" stroke="#139a87" text-anchor="middle">90.9%</text>
<text transform="translate(698.6 1549) scale(0.957 1)" font-size="28" stroke="#231f20" text-anchor="middle">Delta</text>
<text transform="translate(799.3 1549) scale(0.957 1)" font-size="28" stroke="#231f20" text-anchor="middle">Delta</text>
<text transform="translate(698.6 1581.5) scale(0.957 1)" font-size="28" stroke="#231f20" text-anchor="middle">HS</text>
<text transform="translate(799.3 1581.5) scale(0.957 1)" font-size="28" stroke="#231f20" text-anchor="middle">MT</text>
<text transform="translate(981 1093.6)" font-size="28.6" fill="#000" stroke="#000" font-weight="bold">g</text>
<path d="M1112 1108.2V1508.4H1326.5" fill="none" stroke="#4b484a" stroke-width="1.3" stroke-linejoin="round"/>
<path d="M1112 1199.7h-8.7M1112 1272.2h-8.7M1112 1345h-8.7M1112 1418h-8.7M1112 1490.4h-8.7M1170.7 1508.4v8.7M1268.1 1508.4v8.7" fill="none" stroke="#4b484a" stroke-width="1.25"/>
<text transform="translate(1091.8 1209.4) scale(0.975 1)" font-size="27.3" stroke="#231f20" text-anchor="end">1,000</text>
<text transform="translate(1091.8 1281.9) scale(0.957 1)" font-size="27.3" stroke="#231f20" text-anchor="end">100</text>
<text transform="translate(1091.8 1354.7) scale(0.957 1)" font-size="27.3" stroke="#231f20" text-anchor="end">10</text>
<text transform="translate(1091.8 1427.7) scale(0.957 1)" font-size="27.3" stroke="#231f20" text-anchor="end">1</text>
<text transform="translate(1091.8 1500.1) scale(0.957 1)" font-size="27.3" stroke="#231f20" text-anchor="end">0.1</text>
<text transform="translate(1004 1308.6) rotate(-90) scale(0.957 1)" font-size="27.4" stroke="#231f20" text-anchor="middle">SFC per 10<tspan dy="-13.7" font-size="16.99">−6</tspan><tspan dy="13.7"> PBMCs</tspan></text>
<path d="M1170.6 1186.3V1301.7M1170.6 1439.6V1490.7" stroke="#034f66" stroke-width="5.3" fill="none"/>
<rect x="1134.1" y="1301.7" width="72.9" height="137.9" fill="none" stroke="#034f66" stroke-width="5.3" stroke-linejoin="round"/>
<path d="M1133.8 1337.7H1207.3" stroke="#034f66" stroke-width="11" fill="none"/>
<path d="M1267.9 1322.7V1337.7" stroke="#139a87" stroke-width="5.3" fill="none"/>
<rect x="1231.9" y="1337.7" width="72.4" height="152.9" fill="none" stroke="#139a87" stroke-width="5.3" stroke-linejoin="round"/>
<path d="M1231.6 1391.4H1304.6" stroke="#139a87" stroke-width="11" fill="none"/>
<g fill="#034f66"><circle cx="1176.47" cy="1186.32" r="5.2"/><circle cx="1160.53" cy="1281.05" r="5.2"/><circle cx="1174.66" cy="1298.35" r="5.2"/><circle cx="1138.57" cy="1305.11" r="5.2"/><circle cx="1199.02" cy="1331.43" r="5.2"/><circle cx="1178.42" cy="1353.98" r="5.2"/><circle cx="1158.12" cy="1388.72" r="5.2"/><circle cx="1156.62" cy="1490.68" r="5.2"/><circle cx="1170.45" cy="1490.68" r="5.2"/><circle cx="1184.44" cy="1490.68" r="5.2"/></g>
<g fill="#139a87"><circle cx="1285.64" cy="1322.86" r="5.2"/><circle cx="1237.52" cy="1337.74" r="5.2"/><circle cx="1254.81" cy="1337.74" r="5.2"/><circle cx="1272.11" cy="1337.74" r="5.2"/><circle cx="1288.5" cy="1357.29" r="5.2"/><circle cx="1238.57" cy="1490.68" r="5.2"/><circle cx="1248.35" cy="1490.68" r="5.2"/><circle cx="1267.89" cy="1490.68" r="5.2"/><circle cx="1277.67" cy="1490.68" r="5.2"/><circle cx="1287.44" cy="1490.68" r="5.2"/></g>
<line x1="1112" y1="1366.8" x2="1326.5" y2="1366.8" stroke="#231f20" stroke-width="3" stroke-dasharray="13.7 13.2"/>
<line x1="1171.3" y1="1171" x2="1267.5" y2="1171" stroke="#231f20" stroke-width="3.6" stroke-linecap="round"/>
<text transform="translate(1218.5 1161.7) scale(0.951 1)" font-size="23.6" stroke="#231f20" text-anchor="middle">NS</text>
<text transform="translate(1193 1103.2) scale(0.951 1)" font-size="23.6" fill="#034f66" stroke="#034f66" text-anchor="middle"><tspan font-style="italic">n</tspan> = 11</text>
<text transform="translate(1193 1131.2) scale(0.951 1)" font-size="23.6" fill="#034f66" stroke="#034f66" text-anchor="middle">63.6%</text>
<text transform="translate(1299.5 1103.2) scale(0.951 1)" font-size="23.6" fill="#139a87" stroke="#139a87" text-anchor="middle"><tspan font-style="italic">n</tspan> = 11</text>
<text transform="translate(1299.5 1131.2) scale(0.951 1)" font-size="23.6" fill="#139a87" stroke="#139a87" text-anchor="middle">45.5%</text>
<text transform="translate(1170.7 1549) scale(0.957 1)" font-size="28" stroke="#231f20" text-anchor="middle">Delta</text>
<text transform="translate(1268.1 1549) scale(0.957 1)" font-size="28" stroke="#231f20" text-anchor="middle">Delta</text>
<text transform="translate(1170.7 1581.5) scale(0.957 1)" font-size="28" stroke="#231f20" text-anchor="middle">HS</text>
<text transform="translate(1268.1 1581.5) scale(0.957 1)" font-size="28" stroke="#231f20" text-anchor="middle">MT</text>
<text transform="translate(2 1650)" font-size="30.5" fill="#000" stroke="#000" font-weight="bold">h</text>
<path d="M151.05 1648V2239.2H599.4" fill="none" stroke="#4b484a" stroke-width="1.3" stroke-linejoin="round"/>
<path d="M151.05 1705.1h-7.9M151.05 1806.9h-7.9M151.05 1908.2h-7.9M151.05 2009.3h-7.9M151.05 2110.7h-7.9M151.05 2212.5h-7.9M235 2239.2v7.9M375.3 2239.2v7.9M515.5 2239.2v7.9" fill="none" stroke="#4b484a" stroke-width="1.25"/>
<text transform="translate(128.65 1714.8) scale(0.957 1)" font-size="27.3" stroke="#231f20" text-anchor="end">10</text>
<text transform="translate(128.65 1816.6) scale(0.957 1)" font-size="27.3" stroke="#231f20" text-anchor="end">1</text>
<text transform="translate(128.65 1917.9) scale(0.957 1)" font-size="27.3" stroke="#231f20" text-anchor="end">0.1</text>
<text transform="translate(128.65 2019) scale(0.957 1)" font-size="27.3" stroke="#231f20" text-anchor="end">0.01</text>
<text transform="translate(128.65 2120.4) scale(0.957 1)" font-size="27.3" stroke="#231f20" text-anchor="end">0.001</text>
<text transform="translate(128.65 2222.2) scale(0.957 1)" font-size="27.3" stroke="#231f20" text-anchor="end">0.0001</text>
<text transform="translate(20 1942.8) rotate(-90) scale(0.957 1)" font-size="28.3" stroke="#231f20" text-anchor="middle">Relative <tspan font-style="italic">CXCL10</tspan> expression</text>
<text transform="translate(246.7 2270.2) rotate(-46) scale(0.957 1)" font-size="28.3" stroke="#231f20" text-anchor="end">Naive</text>
<text transform="translate(389.3 2268.4) rotate(-46) scale(0.972 1)" font-size="28.3" stroke="#231f20" text-anchor="end">2–3 months vaccinated</text>
<text transform="translate(525.2 2270.8) rotate(-46) scale(0.972 1)" font-size="28.3" stroke="#231f20" text-anchor="end">3 months vaccinated elderly</text>
<rect x="182.6" y="2151" width="104.9" height="60.8" fill="none" stroke="#231f20" stroke-width="5" stroke-linejoin="round"/>
<path d="M182.3 2212.2H287.8" stroke="#231f20" stroke-width="11" fill="none"/>
<path d="M375.5 1878.2V1915.8M375.5 1990.4V2047.4" stroke="#3a5fa9" stroke-width="5" fill="none"/>
<rect x="323" y="1915.8" width="105.1" height="74.6" fill="none" stroke="#3a5fa9" stroke-width="5" stroke-linejoin="round"/>
<path d="M322.7 1941.4H428.4" stroke="#3a5fa9" stroke-width="11" fill="none"/>
<path d="M515.6 1867.9V1900.8M515.6 1991.9V2109.8" stroke="#939598" stroke-width="5" fill="none"/>
<rect x="462.8" y="1900.8" width="105.5" height="91.1" fill="none" stroke="#939598" stroke-width="5" stroke-linejoin="round"/>
<path d="M462.5 1938.6H568.6" stroke="#939598" stroke-width="11" fill="none"/>
<g fill="#231f20"><circle cx="237.59" cy="1950.19" r="4.35"/><circle cx="229.32" cy="2023.5" r="4.35"/><circle cx="241.17" cy="2037.59" r="4.35"/><circle cx="232.71" cy="2151.32" r="4.35"/></g>
<g fill="#3a5fa9"><circle cx="368.38" cy="1878.2" r="4.35"/><circle cx="378.35" cy="1879.7" r="4.35"/><circle cx="350.15" cy="1887.41" r="4.35"/><circle cx="402.03" cy="1891.92" r="4.35"/><circle cx="367.07" cy="1895.3" r="4.35"/><circle cx="342.82" cy="1903.76" r="4.35"/><circle cx="387.74" cy="1903.57" r="4.35"/><circle cx="352.22" cy="1908.83" r="4.35"/><circle cx="400.9" cy="1907.33" r="4.35"/><circle cx="376.84" cy="1911.09" r="4.35"/><circle cx="323.83" cy="1913.91" r="4.35"/><circle cx="427.22" cy="1919.92" r="4.35"/><circle cx="371.58" cy="1921.8" r="4.35"/><circle cx="343.76" cy="1925" r="4.35"/><circle cx="399.77" cy="1924.44" r="4.35"/><circle cx="413.68" cy="1926.32" r="4.35"/><circle cx="357.86" cy="1930.26" r="4.35"/><circle cx="385.3" cy="1934.96" r="4.35"/><circle cx="332.86" cy="1937.97" r="4.35"/><circle cx="365.19" cy="1938.35" r="4.35"/><circle cx="417.26" cy="1938.35" r="4.35"/><circle cx="343.95" cy="1948.12" r="4.35"/><circle cx="390.19" cy="1943.98" r="4.35"/><circle cx="399.21" cy="1953.38" r="4.35"/><circle cx="357.29" cy="1957.33" r="4.35"/><circle cx="377.78" cy="1959.59" r="4.35"/><circle cx="339.25" cy="1964.29" r="4.35"/><circle cx="407.29" cy="1968.23" r="4.35"/><circle cx="371.02" cy="1972.18" r="4.35"/><circle cx="387.74" cy="1973.12" r="4.35"/><circle cx="356.35" cy="1979.32" r="4.35"/><circle cx="363.5" cy="1994.74" r="4.35"/><circle cx="379.85" cy="1997.56" r="4.35"/><circle cx="394.32" cy="1993.8" r="4.35"/><circle cx="347.71" cy="2001.5" r="4.35"/><circle cx="397.14" cy="2006.77" r="4.35"/><circle cx="368.2" cy="2009.02" r="4.35"/><circle cx="380.6" cy="2016.54" r="4.35"/><circle cx="363.68" cy="2035.71" r="4.35"/><circle cx="382.86" cy="2039.85" r="4.35"/><circle cx="368.76" cy="2047.74" r="4.35"/><circle cx="375.4" cy="2188.9" r="4.35"/></g>
<g fill="#939598"><circle cx="535.3" cy="1867.86" r="4.35"/><circle cx="507.11" cy="1882.33" r="4.35"/><circle cx="531.17" cy="1887.03" r="4.35"/><circle cx="477.41" cy="1895.11" r="4.35"/><circle cx="490.75" cy="1897.93" r="4.35"/><circle cx="546.58" cy="1895.3" r="4.35"/><circle cx="518.76" cy="1903.57" r="4.35"/><circle cx="467.63" cy="1914.85" r="4.35"/><circle cx="559.17" cy="1918.23" r="4.35"/><circle cx="509.36" cy="1929.51" r="4.35"/><circle cx="533.05" cy="1935.53" r="4.35"/><circle cx="542.82" cy="1949.25" r="4.35"/><circle cx="499.96" cy="1954.32" r="4.35"/><circle cx="520.08" cy="1960.9" r="4.35"/><circle cx="488.12" cy="1979.7" r="4.35"/><circle cx="538.5" cy="1985.34" r="4.35"/><circle cx="508.05" cy="1997.56" r="4.35"/><circle cx="521.95" cy="2010.71" r="4.35"/><circle cx="499.02" cy="2016.73" r="4.35"/><circle cx="523.08" cy="2100.75" r="4.35"/><circle cx="507.86" cy="2110.15" r="4.35"/><circle cx="515.5" cy="2155.8" r="4.35"/></g>
<line x1="151.1" y1="2062.6" x2="594" y2="2062.6" stroke="#231f20" stroke-width="3.5" stroke-dasharray="13.7 13.2"/>
<line x1="375.6" y1="1674.8" x2="515.2" y2="1674.8" stroke="#231f20" stroke-width="3" stroke-linecap="round"/>
<text transform="translate(445.2 1665.8) scale(0.951 1)" font-size="23.6" stroke="#231f20" text-anchor="middle">0.812</text>
<line x1="235" y1="1715.2" x2="515.2" y2="1715.2" stroke="#231f20" stroke-width="3" stroke-linecap="round"/>
<text transform="translate(374.9 1706.2) scale(0.951 1)" font-size="23.6" stroke="#231f20" text-anchor="middle">1.76 <tspan font-size="27.14" dy="0.71">×</tspan><tspan dy="-0.71"> 10</tspan><tspan dy="-13.22" font-size="14.63">−5</tspan></text>
<line x1="235" y1="1756" x2="374.9" y2="1756" stroke="#231f20" stroke-width="3" stroke-linecap="round"/>
<text transform="translate(304.2 1747) scale(0.951 1)" font-size="23.6" stroke="#231f20" text-anchor="middle">3.27 <tspan font-size="27.14" dy="0.71">×</tspan><tspan dy="-0.71"> 10</tspan><tspan dy="-13.22" font-size="14.63">−6</tspan></text>
<text transform="translate(235.8 1795.2) scale(0.951 1)" font-size="23.6" stroke="#231f20" text-anchor="middle"><tspan font-style="italic">n</tspan> = 13</text>
<text transform="translate(235.8 1830.2) scale(0.951 1)" font-size="23.6" stroke="#231f20" text-anchor="middle">23.1% pos.</text>
<text transform="translate(375.5 1795.2) scale(0.951 1)" font-size="23.6" fill="#3a5fa9" stroke="#3a5fa9" text-anchor="middle"><tspan font-style="italic">n</tspan> = 42</text>
<text transform="translate(375.5 1830.2) scale(0.951 1)" font-size="23.6" fill="#3a5fa9" stroke="#3a5fa9" text-anchor="middle">97.6% pos.</text>
<text transform="translate(515.5 1795.2) scale(0.951 1)" font-size="23.6" fill="#939598" stroke="#939598" text-anchor="middle"><tspan font-style="italic">n</tspan> = 23</text>
<text transform="translate(515.5 1830.2) scale(0.951 1)" font-size="23.6" fill="#939598" stroke="#939598" text-anchor="middle">87% pos.</text>
<text transform="translate(723.5 1650)" font-size="30.5" fill="#000" stroke="#000" font-weight="bold">i</text>
<path d="M869.3 1638.6V2238.9H1331.5" fill="none" stroke="#4b484a" stroke-width="1.3" stroke-linejoin="round"/>
<path d="M869.3 1841.2h-7.9M869.3 1902.9h-7.9M869.3 1964.5h-7.9M869.3 2026.2h-7.9M869.3 2088.2h-7.9M869.3 2149.8h-7.9M869.3 2211.4h-7.9M956 2238.9v7.9M1100.3 2238.9v7.9M1245 2238.9v7.9" fill="none" stroke="#4b484a" stroke-width="1.25"/>
<text transform="translate(849.1 1850.9) scale(0.975 1)" font-size="27.3" stroke="#231f20" text-anchor="end">1,000</text>
<text transform="translate(849.1 1912.6) scale(0.957 1)" font-size="27.3" stroke="#231f20" text-anchor="end">100</text>
<text transform="translate(849.1 1974.2) scale(0.957 1)" font-size="27.3" stroke="#231f20" text-anchor="end">10</text>
<text transform="translate(849.1 2035.9) scale(0.957 1)" font-size="27.3" stroke="#231f20" text-anchor="end">1</text>
<text transform="translate(849.1 2097.9) scale(0.957 1)" font-size="27.3" stroke="#231f20" text-anchor="end">0.1</text>
<text transform="translate(849.1 2159.5) scale(0.957 1)" font-size="27.3" stroke="#231f20" text-anchor="end">0.01</text>
<text transform="translate(849.1 2221.1) scale(0.957 1)" font-size="27.3" stroke="#231f20" text-anchor="end">0.001</text>
<path d="M869.3 1717.2h-7.9" stroke="#4b484a" stroke-width="1.25"/>
<text transform="translate(848.4 1726.9) scale(0.980 1)" font-size="27.3" stroke="#231f20" text-anchor="end">1 <tspan font-size="31.39" dy="0.82">×</tspan><tspan dy="-0.82"> 10</tspan><tspan dy="-11.47" font-size="16.93">5</tspan></text>
<path d="M869.3 1779.2h-7.9" stroke="#4b484a" stroke-width="1.25"/>
<text transform="translate(848.4 1788.9) scale(0.980 1)" font-size="27.3" stroke="#231f20" text-anchor="end">1 <tspan font-size="31.39" dy="0.82">×</tspan><tspan dy="-0.82"> 10</tspan><tspan dy="-11.47" font-size="16.93">4</tspan></text>
<text transform="translate(747.8 1937.5) rotate(-90) scale(0.957 1)" font-size="28.3" stroke="#231f20" text-anchor="middle">IFN-γ (pg ml<tspan dy="-14.15" font-size="17.55">−1</tspan><tspan dy="14.15">)</tspan></text>
<text transform="translate(967.6 2270) rotate(-46) scale(0.957 1)" font-size="28.3" stroke="#231f20" text-anchor="end">Naive</text>
<text transform="translate(1112.8 2270.6) rotate(-46) scale(0.972 1)" font-size="28.3" stroke="#231f20" text-anchor="end">2–3 months vaccinated</text>
<text transform="translate(1254.5 2270.6) rotate(-46) scale(0.972 1)" font-size="28.3" stroke="#231f20" text-anchor="end">3 months vaccinated elderly</text>
<path d="M956.1 1939.7V1998.6M956.1 2077.3V2101.4" stroke="#231f20" stroke-width="5" fill="none"/>
<rect x="901.6" y="1998.6" width="108.8" height="78.7" fill="none" stroke="#231f20" stroke-width="5" stroke-linejoin="round"/>
<path d="M901.3 2032.6H1010.7" stroke="#231f20" stroke-width="11" fill="none"/>
<path d="M1100.5 1862.9V1911.1M1100.5 1947.8V1995.8" stroke="#3a5fa9" stroke-width="5" fill="none"/>
<rect x="1046" y="1911.1" width="108.7" height="36.7" fill="none" stroke="#3a5fa9" stroke-width="5" stroke-linejoin="round"/>
<path d="M1045.7 1931.7H1155" stroke="#3a5fa9" stroke-width="11" fill="none"/>
<path d="M1245.2 1847.3V1909.6M1245.2 1953.8V1995.4" stroke="#939598" stroke-width="5" fill="none"/>
<rect x="1190.4" y="1909.6" width="109.1" height="44.2" fill="none" stroke="#939598" stroke-width="5" stroke-linejoin="round"/>
<path d="M1190.1 1933.9H1299.8" stroke="#939598" stroke-width="11" fill="none"/>
<g fill="#231f20"><circle cx="952.71" cy="1940.68" r="4.3"/><circle cx="962.48" cy="1939.17" r="4.3"/><circle cx="935.6" cy="1970.38" r="4.3"/><circle cx="959.85" cy="1970.38" r="4.3"/><circle cx="975.45" cy="1971.13" r="4.3"/><circle cx="932.03" cy="1985.23" r="4.3"/><circle cx="948.95" cy="1981.84" r="4.3"/><circle cx="964.92" cy="1983.16" r="4.3"/><circle cx="923.95" cy="1998.57" r="4.3"/><circle cx="940.49" cy="1996.69" r="4.3"/><circle cx="956.47" cy="1998.95" r="4.3"/><circle cx="973.38" cy="1995.19" r="4.3"/><circle cx="987.86" cy="2007.59" r="4.3"/><circle cx="952.89" cy="2021.32" r="4.3"/><circle cx="910.23" cy="2026.77" r="4.3"/><circle cx="924.51" cy="2026.39" r="4.3"/><circle cx="938.42" cy="2026.39" r="4.3"/><circle cx="966.43" cy="2026.39" r="4.3"/><circle cx="979.02" cy="2023.38" r="4.3"/><circle cx="994.06" cy="2026.39" r="4.3"/><circle cx="919.81" cy="2039.55" r="4.3"/><circle cx="933.91" cy="2041.43" r="4.3"/><circle cx="984.29" cy="2041.24" r="4.3"/><circle cx="958.72" cy="2045.56" r="4.3"/><circle cx="920.94" cy="2051.39" r="4.3"/><circle cx="985.41" cy="2054.77" r="4.3"/><circle cx="952.33" cy="2061.35" r="4.3"/><circle cx="965.68" cy="2066.8" r="4.3"/><circle cx="941.05" cy="2075.08" r="4.3"/><circle cx="947.63" cy="2080.9" r="4.3"/><circle cx="969.81" cy="2079.21" r="4.3"/><circle cx="957.41" cy="2094.25" r="4.3"/><circle cx="946.32" cy="2101.77" r="4.3"/><circle cx="931.8" cy="2211.5" r="4.3"/><circle cx="939.82" cy="2211.5" r="4.3"/><circle cx="947.84" cy="2211.5" r="4.3"/><circle cx="955.86" cy="2211.5" r="4.3"/><circle cx="963.88" cy="2211.5" r="4.3"/><circle cx="971.9" cy="2211.5" r="4.3"/><circle cx="979.92" cy="2211.5" r="4.3"/></g>
<g fill="#3a5fa9"><circle cx="1094.25" cy="1862.89" r="4.3"/><circle cx="1107.78" cy="1872.86" r="4.3"/><circle cx="1094.25" cy="1876.43" r="4.3"/><circle cx="1100.83" cy="1891.09" r="4.3"/><circle cx="1081.09" cy="1897.11" r="4.3"/><circle cx="1129.02" cy="1902.74" r="4.3"/><circle cx="1098.01" cy="1904.81" r="4.3"/><circle cx="1077.89" cy="1910.45" r="4.3"/><circle cx="1088.05" cy="1912.14" r="4.3"/><circle cx="1107.41" cy="1913.65" r="4.3"/><circle cx="1117.74" cy="1908.95" r="4.3"/><circle cx="1127.71" cy="1911.2" r="4.3"/><circle cx="1067.37" cy="1923.05" r="4.3"/><circle cx="1091.43" cy="1925.86" r="4.3"/><circle cx="1135.6" cy="1923.98" r="4.3"/><circle cx="1148.2" cy="1934.32" r="4.3"/><circle cx="1072.63" cy="1944.29" r="4.3"/><circle cx="1094.62" cy="1941.28" r="4.3"/><circle cx="1117.18" cy="1943.72" r="4.3"/><circle cx="1084.85" cy="1948.05" r="4.3"/><circle cx="1070.75" cy="1950.3" r="4.3"/><circle cx="1105.53" cy="1948.42" r="4.3"/><circle cx="1126.77" cy="1947.48" r="4.3"/><circle cx="1109.29" cy="1966.84" r="4.3"/><circle cx="1097.07" cy="1971.92" r="4.3"/><circle cx="1102.71" cy="1985.64" r="4.3"/><circle cx="1094.25" cy="1995.79" r="4.3"/><circle cx="1103.65" cy="2021.73" r="4.3"/><circle cx="1096.32" cy="2070.79" r="4.3"/><circle cx="1100.45" cy="2081.13" r="4.3"/></g>
<g fill="#939598"><circle cx="1241.8" cy="1847.29" r="4.3"/><circle cx="1245.19" cy="1871.92" r="4.3"/><circle cx="1224.51" cy="1891.84" r="4.3"/><circle cx="1267.56" cy="1893.53" r="4.3"/><circle cx="1241.8" cy="1901.99" r="4.3"/><circle cx="1265.68" cy="1902.93" r="4.3"/><circle cx="1215.86" cy="1905.19" r="4.3"/><circle cx="1226.77" cy="1908.95" r="4.3"/><circle cx="1255.34" cy="1909.32" r="4.3"/><circle cx="1283.53" cy="1908.01" r="4.3"/><circle cx="1198.57" cy="1913.27" r="4.3"/><circle cx="1291.05" cy="1913.65" r="4.3"/><circle cx="1213.98" cy="1919.85" r="4.3"/><circle cx="1235.41" cy="1917.59" r="4.3"/><circle cx="1260.23" cy="1917.59" r="4.3"/><circle cx="1264.74" cy="1924.92" r="4.3"/><circle cx="1231.47" cy="1931.5" r="4.3"/><circle cx="1210.79" cy="1938.08" r="4.3"/><circle cx="1246.5" cy="1937.14" r="4.3"/><circle cx="1284.66" cy="1943.35" r="4.3"/><circle cx="1238.98" cy="1946.54" r="4.3"/><circle cx="1213.98" cy="1948.8" r="4.3"/><circle cx="1226.77" cy="1951.24" r="4.3"/><circle cx="1263.8" cy="1948.8" r="4.3"/><circle cx="1275.64" cy="1949.92" r="4.3"/><circle cx="1216.43" cy="1957.82" r="4.3"/><circle cx="1250.26" cy="1955" r="4.3"/><circle cx="1253.46" cy="1989.77" r="4.3"/><circle cx="1241.8" cy="1995.41" r="4.3"/><circle cx="1248.38" cy="2025.11" r="4.3"/><circle cx="1233.35" cy="2029.06" r="4.3"/><circle cx="1251.02" cy="2038.65" r="4.3"/><circle cx="1240.86" cy="2051.62" r="4.3"/><circle cx="1245" cy="2211.6" r="4.3"/></g>
<line x1="869.1" y1="1983.2" x2="1331.5" y2="1983.2" stroke="#231f20" stroke-width="3.5" stroke-dasharray="13.7 13.2"/>
<line x1="1100.1" y1="1665.1" x2="1244.8" y2="1665.1" stroke="#231f20" stroke-width="3" stroke-linecap="round"/>
<text transform="translate(1172.7 1656.4) scale(0.951 1)" font-size="23.6" stroke="#231f20" text-anchor="middle">0.766</text>
<line x1="955.8" y1="1706.8" x2="1244.8" y2="1706.8" stroke="#231f20" stroke-width="3" stroke-linecap="round"/>
<text transform="translate(1099 1697.7) scale(0.951 1)" font-size="23.6" stroke="#231f20" text-anchor="middle">4.19 <tspan font-size="27.14" dy="0.71">×</tspan><tspan dy="-0.71"> 10</tspan><tspan dy="-13.22" font-size="14.63">−9</tspan></text>
<line x1="955.8" y1="1747.8" x2="1100" y2="1747.8" stroke="#231f20" stroke-width="3" stroke-linecap="round"/>
<text transform="translate(1026.7 1739) scale(0.951 1)" font-size="23.6" stroke="#231f20" text-anchor="middle">9.8 <tspan font-size="27.14" dy="0.71">×</tspan><tspan dy="-0.71"> 10</tspan><tspan dy="-13.22" font-size="14.63">−11</tspan></text>
<text transform="translate(956.4 1795.6) scale(0.951 1)" font-size="23.6" stroke="#231f20" text-anchor="middle"><tspan font-style="italic">n</tspan> = 43</text>
<text transform="translate(956.4 1830.3) scale(0.951 1)" font-size="23.6" stroke="#231f20" text-anchor="middle">16.3% pos.</text>
<text transform="translate(1100.5 1795.6) scale(0.951 1)" font-size="23.6" fill="#3a5fa9" stroke="#3a5fa9" text-anchor="middle"><tspan font-style="italic">n</tspan> = 36</text>
<text transform="translate(1100.5 1830.3) scale(0.951 1)" font-size="23.6" fill="#3a5fa9" stroke="#3a5fa9" text-anchor="middle">86.1% pos.</text>
<text transform="translate(1245 1795.6) scale(0.951 1)" font-size="23.6" fill="#939598" stroke="#939598" text-anchor="middle"><tspan font-style="italic">n</tspan> = 34</text>
<text transform="translate(1245 1830.3) scale(0.951 1)" font-size="23.6" fill="#939598" stroke="#939598" text-anchor="middle">79.4% pos.</text>
</svg>
</body>
</html>
